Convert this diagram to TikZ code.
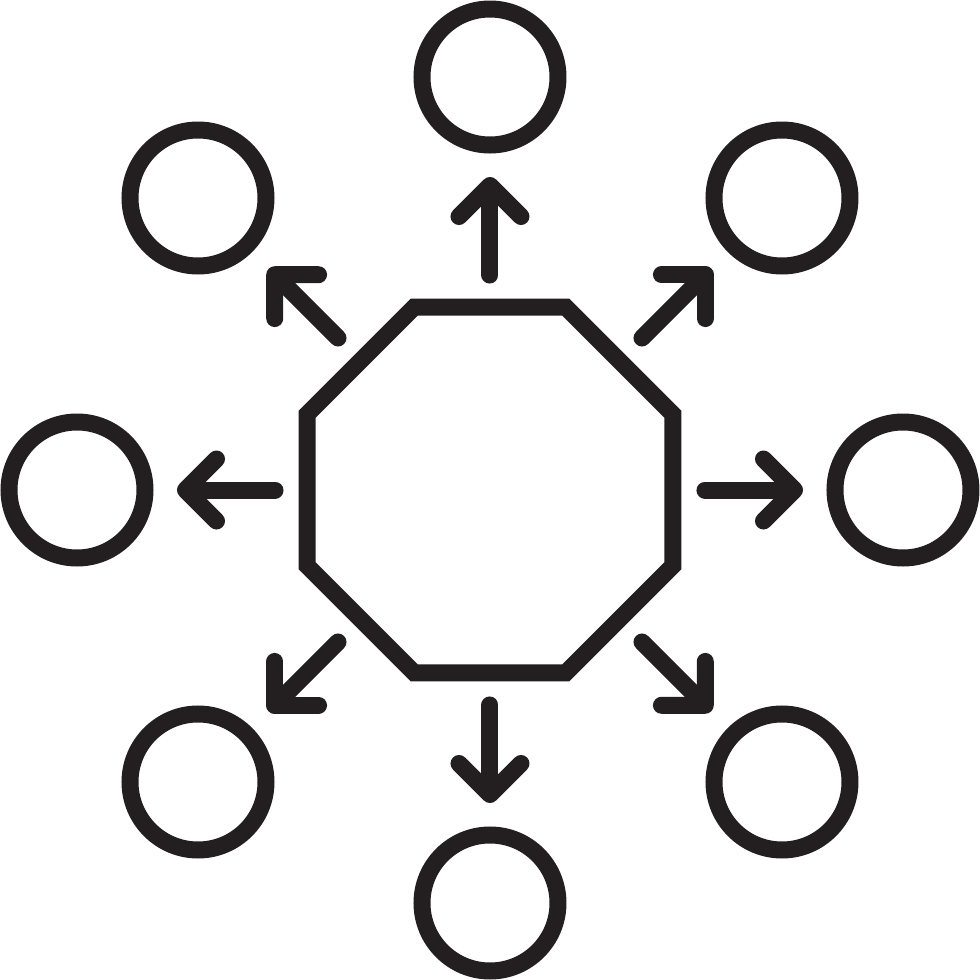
\documentclass[tikz,border=0pt]{standalone}
\usetikzlibrary{arrows.meta,shapes.geometric}
\definecolor{ink}{HTML}{231F20}
\tikzset{
	ring/.style={draw=ink, circle, line width=0.17cm, minimum size=1.36cm, inner sep=0, outer sep=0},
	hubshape/.style={draw=ink, regular polygon, regular polygon sides=8, line width=0.17cm, minimum size=3.96cm, inner sep=0, outer sep=0},
	spoke/.style={draw=ink, line width=0.17cm, line cap=round, -{Straight Barb[length=0.31cm, width=0.62cm, round]}, shorten <=0.32cm, shorten >=0.32cm}
}

\begin{document}
\begin{tikzpicture}
			%%%%% START %%%%%
			\useasboundingbox (0, 0) rectangle (9.8, 9.8);
			
			\node[hubshape] (hub) at (4.9, 4.9) {};
			
			\node[ring] (top) at (4.9, 9.03) {};
			\node[ring] (topright) at (7.82, 7.82) {};
			\node[ring] (right) at (9.03, 4.9) {};
			\node[ring] (bottomright) at (7.82, 1.98) {};
			\node[ring] (bottom) at (4.9, 0.77) {};
			\node[ring] (bottomleft) at (1.98, 1.98) {};
			\node[ring] (left) at (0.77, 4.9) {};
			\node[ring] (topleft) at (1.98, 7.82) {};
			
			\draw[spoke] (hub.90) -- (top.270);
			\draw[spoke] (hub.45) -- (topright.225);
			\draw[spoke] (hub.0) -- (right.180);
			\draw[spoke] (hub.315) -- (bottomright.135);
			\draw[spoke] (hub.270) -- (bottom.90);
			\draw[spoke] (hub.225) -- (bottomleft.45);
			\draw[spoke] (hub.180) -- (left.0);
			\draw[spoke] (hub.135) -- (topleft.315);
			%%%%% END %%%%%
\end{tikzpicture}
\end{document}
